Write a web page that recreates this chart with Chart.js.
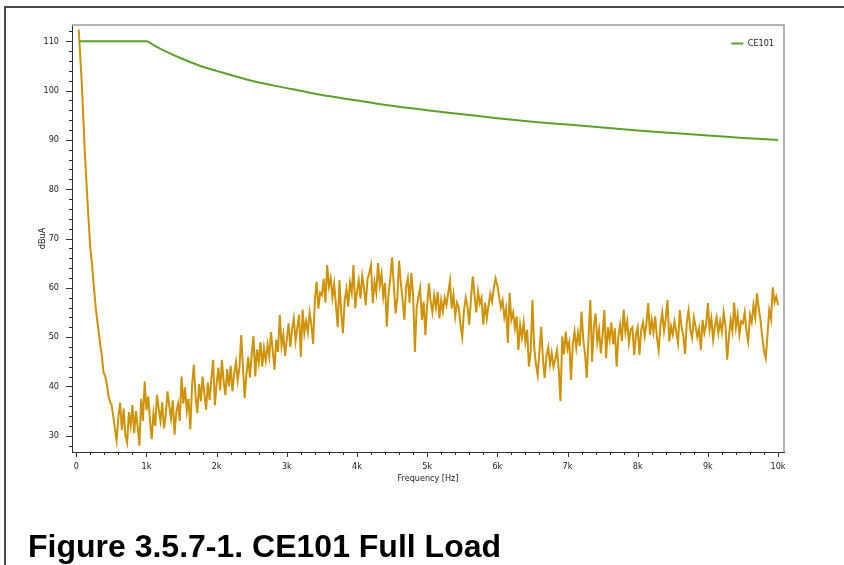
<!DOCTYPE html>
<html>
<head>
<meta charset="utf-8">
<script src="https://cdn.jsdelivr.net/npm/chart.js@4.4.0/dist/chart.umd.min.js"></script>
<style>
  html, body { margin: 0; padding: 0; background: #fff; }
  #page { position: relative; width: 844px; height: 565px; overflow: hidden; }
  #frame { position: absolute; left: 4px; top: 6px; right: -10px; bottom: -10px;
           border-top: 2px solid #4a4a4a; border-left: 2px solid #4a4a4a; }
  #wrap { position: absolute; left: 0; top: 0; width: 844px; height: 565px; }
  #caption { position: absolute; left: 28px; top: 530px; white-space: nowrap; color: #000;
             font: bold 32px 'Liberation Sans', Arial, sans-serif; line-height: 32px; }
</style>
</head>
<body>
<div id="page">
  <div id="frame"></div>
  <div id="wrap"><canvas id="c" width="844" height="565"></canvas></div>
  <div id="caption">Figure 3.5.7-1. CE101 Full Load</div>
</div>
<script>
// CE101 limit line (dBuA) at selected frequencies (Hz)
const limitFreqs  = [40, 1000, 1100, 1250, 1500, 1750, 2000, 2500, 3000, 3500, 4000, 4500, 5000,
                     5500, 6000, 6500, 7000, 7500, 8000, 8500, 9000, 9500, 10000];
const limitLevels = [110, 110, 109.2, 108.1, 106.5, 105.1, 104.0, 102.0, 100.5, 99.1, 98.0, 96.9, 96.0,
                     95.2, 94.4, 93.7, 93.1, 92.5, 91.9, 91.4, 90.9, 90.4, 90.0];

// Full-load measurement: low-frequency roll-off (Hz / dBuA)
const dropFreqs  = [35, 80, 120, 160, 200, 223, 240, 280, 320, 342, 366, 389, 410, 437, 460, 484];
const dropLevels = [112.4, 101, 88, 77.5, 68, 65, 62, 55.5, 51, 48.5, 46, 42.8, 42.2, 40.3, 38, 36.7];

// Full-load measurement: sweep from 500 Hz to 10 kHz in 25 Hz steps (dBuA)
const sweepStartHz = 500;
const sweepStepHz  = 25;
const sweepLevels = [
  // 500 - 975 Hz
  36.5, 34.2, 31.5, 29.0, 33.8, 36.7, 31.2, 35.5, 30.1, 28.6, 34.8, 32.0, 36.2, 30.5, 35.0, 31.8, 28.0, 37.5, 33.0, 41.0,
  // 1.0 - 1.475 kHz
  35.2, 38.0, 33.1, 29.3, 34.6, 32.0, 38.3, 35.4, 33.0, 36.8, 31.5, 34.2, 39.0, 36.0, 33.5, 37.2, 30.2, 34.8, 36.5, 33.0,
  // 1.5 - 1.975 kHz
  42.0, 36.5, 39.8, 35.0, 37.5, 31.3, 40.2, 44.4, 38.0, 34.6, 40.5, 37.0, 42.0, 38.5, 35.3, 40.8, 37.2, 41.5, 45.4, 36.2,
  // 2.0 - 2.475 kHz
  40.5, 43.8, 39.2, 45.4, 41.0, 38.2, 43.5, 40.0, 44.2, 39.0, 42.6, 45.0, 41.2, 43.8, 50.4, 44.0, 37.6, 42.5, 46.0, 41.8,
  // 2.5 - 2.975 kHz
  46.5, 50.2, 42.0, 47.5, 44.8, 49.0, 44.0, 47.8, 45.2, 48.5, 46.0, 51.0, 47.2, 43.4, 49.5, 47.0, 54.5, 48.2, 50.5, 46.2,
  // 3.0 - 3.475 kHz
  49.5, 52.8, 48.0, 51.5, 53.8, 49.2, 52.0, 54.5, 46.0, 55.6, 50.8, 53.2, 51.0, 55.0, 52.5, 48.6, 57.5, 61.2, 55.8, 59.0,
  // 3.5 - 3.975 kHz
  58.5, 61.8, 57.0, 64.6, 60.2, 62.0, 58.0, 60.8, 56.5, 52.0, 61.6, 55.0, 50.8, 57.5, 59.8, 56.2, 61.0, 59.0, 64.6, 55.8,
  // 4.0 - 4.475 kHz
  59.2, 61.5, 57.8, 62.4, 60.0, 56.5, 61.8, 63.0, 64.6, 56.9, 61.2, 59.0, 65.0, 60.5, 62.8, 58.2, 61.0, 52.1, 58.8, 62.0,
  // 4.5 - 4.975 kHz
  66.2, 60.5, 54.8, 58.0, 65.5, 61.0, 57.5, 53.5, 60.2, 62.0, 57.0, 63.0, 58.5, 47.0, 55.8, 58.2, 60.0, 53.5, 57.2, 50.4,
  // 5.0 - 5.475 kHz
  56.5, 60.9, 57.2, 55.0, 58.5, 56.0, 59.2, 53.8, 57.5, 55.2, 58.0, 56.5, 59.0, 61.4, 55.8, 58.6, 54.2, 57.0, 56.0, 52.5,
  // 5.5 - 5.975 kHz
  50.0, 55.5, 58.0, 56.2, 52.5, 57.8, 62.3, 58.5, 55.0, 59.2, 56.8, 58.0, 52.5, 57.0, 53.8, 56.5, 58.8, 57.2, 60.0, 61.9,
  // 6.0 - 6.475 kHz
  60.5, 58.2, 56.0, 57.5, 54.0, 55.8, 48.8, 59.0, 53.5, 55.0, 51.8, 54.2, 47.4, 52.5, 50.0, 53.0, 49.0, 51.5, 44.0, 47.0,
  // 6.5 - 6.975 kHz
  57.5, 48.0, 44.5, 42.3, 47.0, 52.1, 45.5, 41.7, 46.2, 48.0, 44.5, 46.8, 44.0, 45.5, 47.4, 43.5, 37.0, 50.1, 46.5, 51.1,
  // 7.0 - 7.475 kHz
  47.5, 49.0, 41.3, 48.5, 51.1, 47.8, 50.8, 48.2, 55.2, 49.5, 46.5, 41.7, 50.0, 57.5, 45.0, 52.0, 54.8, 49.0, 51.5, 46.7,
  // 7.5 - 7.975 kHz
  50.5, 55.5, 45.7, 52.0, 49.5, 53.0, 48.5, 51.8, 44.0, 50.2, 52.5, 49.2, 55.6, 51.0, 53.2, 48.8, 51.5, 52.0, 46.4, 50.5,
  // 8.0 - 8.475 kHz
  52.0, 46.4, 51.5, 53.0, 50.2, 52.8, 56.9, 50.5, 53.5, 51.0, 54.2, 49.8, 47.4, 52.5, 55.0, 51.2, 53.8, 57.5, 49.1, 52.2,
  // 8.5 - 8.975 kHz
  50.5, 53.2, 51.0, 48.8, 55.5, 52.0, 50.2, 46.6, 53.0, 55.4, 51.5, 49.8, 54.0, 52.2, 50.0, 51.8, 47.4, 53.5, 50.8, 52.5,
  // 9.0 - 9.475 kHz
  56.9, 51.5, 53.8, 49.5, 52.2, 54.0, 50.8, 53.2, 51.0, 55.0, 52.5, 45.4, 50.0, 53.5, 51.2, 57.0, 52.0, 54.5, 50.5, 53.2,
  // 9.5 - 9.975 kHz
  52.8, 55.0, 51.2, 49.1, 54.5, 53.0, 56.5, 54.0, 58.9, 55.8, 53.5, 50.0, 47.2, 45.7, 50.5, 55.5, 53.6, 60.1, 57.0, 58.2,
  // 10 kHz
  56.5
];

// Axis ranges and tick spacing
const X_MIN = -61, X_MAX = 10085, X_STEP = 200, X_MAJOR = 1000;
const Y_MIN = 26.7, Y_MAX = 113.3, Y_STEP = 2, Y_MAJOR = 10;

const limitPoints = limitFreqs.map((f, i) => ({ x: f, y: limitLevels[i] }));
const loadPoints = dropFreqs.map((f, i) => ({ x: f, y: dropLevels[i] }))
  .concat(sweepLevels.map((v, i) => ({ x: sweepStartHz + i * sweepStepHz, y: v })));

const FONT = "'Liberation Sans Narrow', 'DejaVu Sans Condensed', 'Liberation Sans', sans-serif";
const TEXT = '#222';

// Gray frame on the top and right edges of the plot area
const plotFrame = {
  id: 'plotFrame',
  beforeDatasetsDraw(chart) {
    const { ctx, chartArea: a } = chart;
    ctx.save();
    ctx.strokeStyle = '#9c9c9c';
    ctx.lineWidth = 1.5;
    ctx.beginPath();
    ctx.moveTo(a.left, a.top);
    ctx.lineTo(a.right, a.top);
    ctx.lineTo(a.right, a.bottom);
    ctx.stroke();
    ctx.restore();
  }
};

// Outward tick marks: long at labelled values, short in between
const tickMarks = {
  id: 'tickMarks',
  afterDraw(chart) {
    const { ctx, chartArea: a, scales: { x, y } } = chart;
    ctx.save();
    ctx.strokeStyle = '#333';
    ctx.lineWidth = 1;
    ctx.beginPath();
    x.ticks.forEach(t => {
      const px = Math.round(x.getPixelForValue(t.value)) + 0.5;
      const len = t.value % X_MAJOR === 0 ? 5 : 3;
      ctx.moveTo(px, a.bottom);
      ctx.lineTo(px, a.bottom + len);
    });
    y.ticks.forEach(t => {
      const py = Math.round(y.getPixelForValue(t.value)) + 0.5;
      const len = t.value % Y_MAJOR === 0 ? 6 : 3;
      ctx.moveTo(a.left - len, py);
      ctx.lineTo(a.left, py);
    });
    ctx.stroke();
    ctx.restore();
  }
};

// Keep the in-plot legend in the top right corner of the plot area
const legendCorner = {
  id: 'legendCorner',
  afterLayout(chart) {
    const lg = chart.legend;
    if (!lg) return;
    const a = chart.chartArea;
    const w = lg.width, h = lg.height;
    lg.left = a.right - w;
    lg.right = a.right;
    lg.top = a.top;
    lg.bottom = a.top + h;
  }
};

new Chart(document.getElementById('c'), {
  type: 'line',
  data: {
    datasets: [
      {
        label: 'CE101',
        data: limitPoints,
        borderColor: '#5ba22b',
        backgroundColor: '#5ba22b',
        borderWidth: 2,
        pointRadius: 0,
        cubicInterpolationMode: 'monotone',
        fill: false
      },
      {
        label: 'Full Load',
        data: loadPoints,
        borderColor: '#d09208',
        backgroundColor: '#d09208',
        borderWidth: 2,
        pointRadius: 0,
        tension: 0,
        fill: false
      }
    ]
  },
  options: {
    responsive: false,
    animation: false,
    devicePixelRatio: 1,
    layout: { padding: { left: 0, right: 60, top: 25, bottom: 77 } },
    plugins: {
      legend: {
        position: 'chartArea',
        align: 'start',
        labels: {
          filter: item => item.datasetIndex === 0,
          usePointStyle: true,
          pointStyle: 'line',
          pointStyleWidth: 12,
          color: TEXT,
          font: { family: FONT, size: 9 },
          padding: 14
        }
      },
      tooltip: { enabled: false },
      title: { display: false }
    },
    scales: {
      x: {
        type: 'linear',
        position: 'bottom',
        min: X_MIN,
        max: X_MAX,
        afterFit(scale) { scale.height = 36; },
        border: { display: true, color: '#333', width: 1 },
        grid: { display: true, drawOnChartArea: false, drawTicks: false },
        ticks: {
          stepSize: X_STEP,
          includeBounds: false,
          autoSkip: false,
          maxRotation: 0,
          padding: 9,
          color: TEXT,
          font: { family: FONT, size: 9 },
          callback: v => v === 0 ? '0' : (v % X_MAJOR === 0 ? (v / 1000) + 'k' : '')
        },
        title: {
          display: true,
          text: 'Frequency [Hz]',
          color: TEXT,
          font: { family: FONT, size: 9 },
          padding: { top: 0, bottom: 4 }
        }
      },
      y: {
        type: 'linear',
        min: Y_MIN,
        max: Y_MAX,
        afterFit(scale) { scale.width = 72; },
        border: { display: true, color: '#333', width: 1 },
        grid: { display: true, drawOnChartArea: false, drawTicks: false },
        ticks: {
          stepSize: Y_STEP,
          includeBounds: false,
          autoSkip: false,
          padding: 13,
          color: TEXT,
          font: { family: FONT, size: 9 },
          callback: v => v % Y_MAJOR === 0 ? String(v) : ''
        },
        title: {
          display: true,
          text: 'dBuA',
          color: TEXT,
          font: { family: FONT, size: 9 },
          padding: { top: 37, bottom: 0 }
        }
      }
    }
  },
  plugins: [plotFrame, tickMarks, legendCorner]
});
</script>
</body>
</html>
